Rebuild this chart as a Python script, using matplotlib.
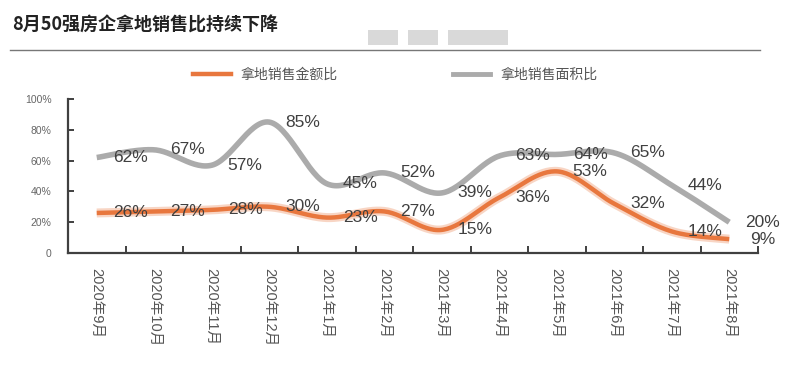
import numpy as np
import matplotlib
matplotlib.use('Agg')
import matplotlib.pyplot as plt
from matplotlib.lines import Line2D
from matplotlib.patches import Rectangle

plt.rcParams['font.family'] = ['Liberation Sans', 'Noto Sans CJK SC', 'DejaVu Sans']

# データ
months = ['2020年9月', '2020年10月', '2020年11月', '2020年12月',
          '2021年1月', '2021年2月', '2021年3月', '2021年4月',
          '2021年5月', '2021年6月', '2021年7月', '2021年8月']
amount_ratio = [26, 27, 28, 30, 23, 27, 15, 36, 53, 32, 14, 9]     # 拿地销售金额比
area_ratio = [62, 67, 57, 85, 45, 52, 39, 63, 64, 65, 44, 20]       # 拿地销售面积比

title = '8月50强房企拿地销售比持续下降'
orange = '#E8773E'
grey = '#ABABAB'
axis_col = '#404040'


def smooth(x, y, n=30):
    # Catmull-Rom で滑らかな線にする（描画用）
    x = np.asarray(x, float)
    y = np.asarray(y, float)
    px = np.concatenate([[x[0]], x, [x[-1]]])
    py = np.concatenate([[y[0]], y, [y[-1]]])
    xs, ys = [], []
    t = np.linspace(0, 1, n, endpoint=False)
    for i in range(1, len(px) - 2):
        for arr, out in ((px, xs), (py, ys)):
            p0, p1, p2, p3 = arr[i - 1], arr[i], arr[i + 1], arr[i + 2]
            out.append(0.5 * (2 * p1 + (-p0 + p2) * t
                              + (2 * p0 - 5 * p1 + 4 * p2 - p3) * t ** 2
                              + (-p0 + 3 * p1 - 3 * p2 + p3) * t ** 3))
    xs.append([x[-1]])
    ys.append([y[-1]])
    return np.concatenate(xs), np.concatenate(ys)


fig = plt.figure(figsize=(7.86, 3.76), dpi=100)
ax = fig.add_axes([68 / 786, 1 - 253 / 376, 690 / 786, 154 / 376])

xc = np.arange(len(months)) + 0.5

sx, sy = smooth(xc, np.array(area_ratio) / 100)
ax.plot(sx, sy, color=grey, lw=4, solid_capstyle='butt', zorder=2)

sx, sy = smooth(xc, np.array(amount_ratio) / 100)
ax.plot(sx, sy, color=orange, lw=6.5, alpha=0.3, solid_capstyle='butt', zorder=3)
ax.plot(sx, sy, color=orange, lw=3.2, solid_capstyle='butt', zorder=3)

# データラベル（Excel 風にずれた位置）
for i, v in enumerate(area_ratio):
    ax.text(xc[i] + 0.58, v / 100, f'{v}%', ha='center', va='center',
            fontsize=12.5, color=axis_col, zorder=4)
for i, v in enumerate(amount_ratio):
    ax.text(xc[i] + 0.58, v / 100, f'{v}%', ha='center', va='center',
            fontsize=12.5, color=axis_col, zorder=4)

ax.set_xlim(0, 12)
ax.set_ylim(0, 1)
for s in ['top', 'right']:
    ax.spines[s].set_visible(False)
for s in ['left', 'bottom']:
    ax.spines[s].set_color(axis_col)
    ax.spines[s].set_linewidth(1.6)

ax.set_xticks(np.arange(1, 13))
ax.set_xticklabels([])
ax.set_xticks(xc, minor=True)
ax.set_xticklabels(months, minor=True, rotation=-90, fontsize=10.5, color='#555555',
                   va='top', ha='center')
ax.tick_params(axis='x', which='major', direction='in', length=5, width=1.4, color=axis_col)
ax.tick_params(axis='x', which='minor', length=0, pad=11)

yt = [0, 0.2, 0.4, 0.6, 0.8, 1.0]
ax.set_yticks(yt)
ax.set_yticklabels(['0', '20%', '40%', '60%', '80%', '100%'], fontsize=7.5, color='#666666')
ax.tick_params(axis='y', direction='in', length=4, width=1.4, color=axis_col, pad=12)

# 凡例
handles = [Line2D([], [], color=orange, lw=3.2), Line2D([], [], color=grey, lw=3.5)]
fig.legend(handles, ['拿地销售金额比', '拿地销售面积比'], loc='center',
           bbox_to_anchor=(0.503, 0.80), ncol=2, frameon=False, fontsize=10,
           handlelength=2.7, handletextpad=0.7, columnspacing=8.3,
           labelcolor='#555555')

# タイトル
fig.text(12 / 786, 1 - 25 / 376, title, fontsize=13, fontweight='heavy',
         family=['Noto Sans CJK SC'], color='#222222', va='center', ha='left')
fig.add_artist(Line2D([10 / 786, 760 / 786], [1 - 50 / 376] * 2,
                      color='#777777', lw=1))
# ぼかしたウォーターマーク
for x0, w in [(368, 30), (408, 30), (448, 60)]:
    fig.add_artist(Rectangle((x0 / 786, 1 - 45 / 376), w / 786, 15 / 376,
                             color='#d9d9d9', lw=0))

fig.savefig('out.png', dpi=100)
